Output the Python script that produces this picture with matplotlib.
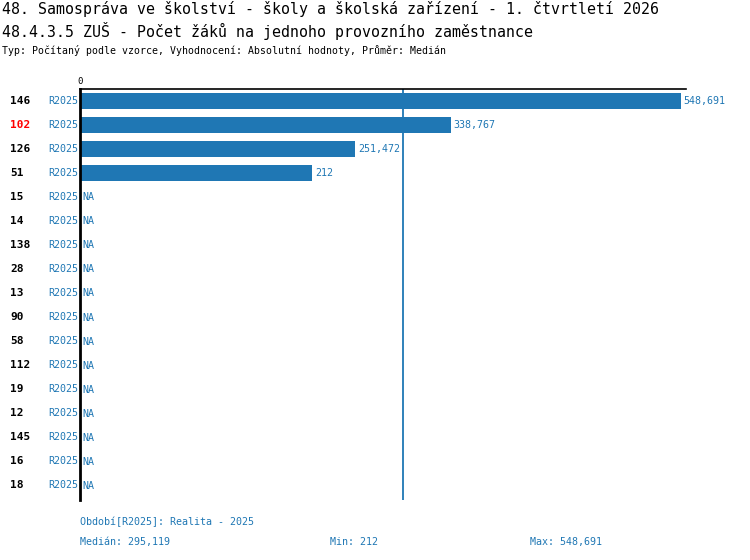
import matplotlib
matplotlib.use("Agg")
import matplotlib.pyplot as plt

# ---------------------------------------------
# Data
categories = ["146", "102", "126", "51", "15", "14", "138", "28", "13",
              "90", "58", "112", "19", "12", "145", "16", "18"]
values = [548691, 338767, 251472, 212000] + [None] * 13
value_labels = ["548,691", "338,767", "251,472", "212"]
period = "R2025"
highlight = "102"
median = 295119
vmin_txt = "212"
vmax_txt = "548,691"

title1 = "48. Samospráva ve školství - školy a školská zařízení - 1. čtvrtletí 2026"
title2 = "48.4.3.5 ZUŠ - Počet žáků na jednoho provozního zaměstnance"
subtitle = "Typ: Počítaný podle vzorce, Vyhodnocení: Absolutní hodnoty, Průměr: Medián"

BLUE = "#1f77b4"
plt.rcParams["font.family"] = ["DejaVu Sans Mono"]

W, H = 750, 560
fig = plt.figure(figsize=(W / 100, H / 100), dpi=100)


def fx(px):
    return px / W


def fy(py):
    return 1 - py / H


ax = fig.add_axes([fx(80), fy(500), fx(686) - fx(80), fy(89) - fy(500)])

n = len(categories)
for i, v in enumerate(values):
    if v is not None:
        ax.barh(i, v, height=0.67, color=BLUE, zorder=2)
        ax.text(v + 2500, i, value_labels[i], color=BLUE, fontsize=7.2,
                va="center", ha="left")
    else:
        ax.text(2500, i, "NA", color=BLUE, fontsize=7.2, va="center", ha="left")

ax.axvline(median, color=BLUE, lw=1.3, zorder=1)

ax.set_xlim(0, 553257)
ax.set_ylim(n - 1 + 14 / 24, -12 / 24)

for s in ["right", "bottom"]:
    ax.spines[s].set_visible(False)
ax.spines["left"].set_linewidth(2)
ax.spines["top"].set_linewidth(1.2)
ax.set_yticks([])
ax.xaxis.tick_top()
ax.set_xticks([0])
ax.set_xticklabels(["0"], fontsize=6.5)
ax.tick_params(axis="x", length=0, pad=2)

# row labels
for i, c in enumerate(categories):
    yy = fy(101 + 24 * i)
    fig.text(fx(10), yy, c, fontsize=8, fontweight="bold", va="center",
             color="red" if c == highlight else "black")
    fig.text(fx(78), yy, period, fontsize=7.2, va="center", ha="right", color=BLUE)

# titles
fig.text(fx(2), fy(9), title1, fontsize=10.7, va="center")
fig.text(fx(2), fy(31), title2, fontsize=10.7, va="center")
fig.text(fx(2), fy(50), subtitle, fontsize=7.1, va="center")

# footer
fig.text(fx(80), fy(522), "Období[R2025]: Realita - 2025", fontsize=7.2,
         va="center", color=BLUE)
fig.text(fx(80), fy(542), "Medián: {:,}".format(median), fontsize=7.2,
         va="center", color=BLUE)
fig.text(fx(330), fy(542), "Min: " + vmin_txt, fontsize=7.2, va="center", color=BLUE)
fig.text(fx(530), fy(542), "Max: " + vmax_txt, fontsize=7.2, va="center", color=BLUE)

fig.savefig("out.png", dpi=100)
